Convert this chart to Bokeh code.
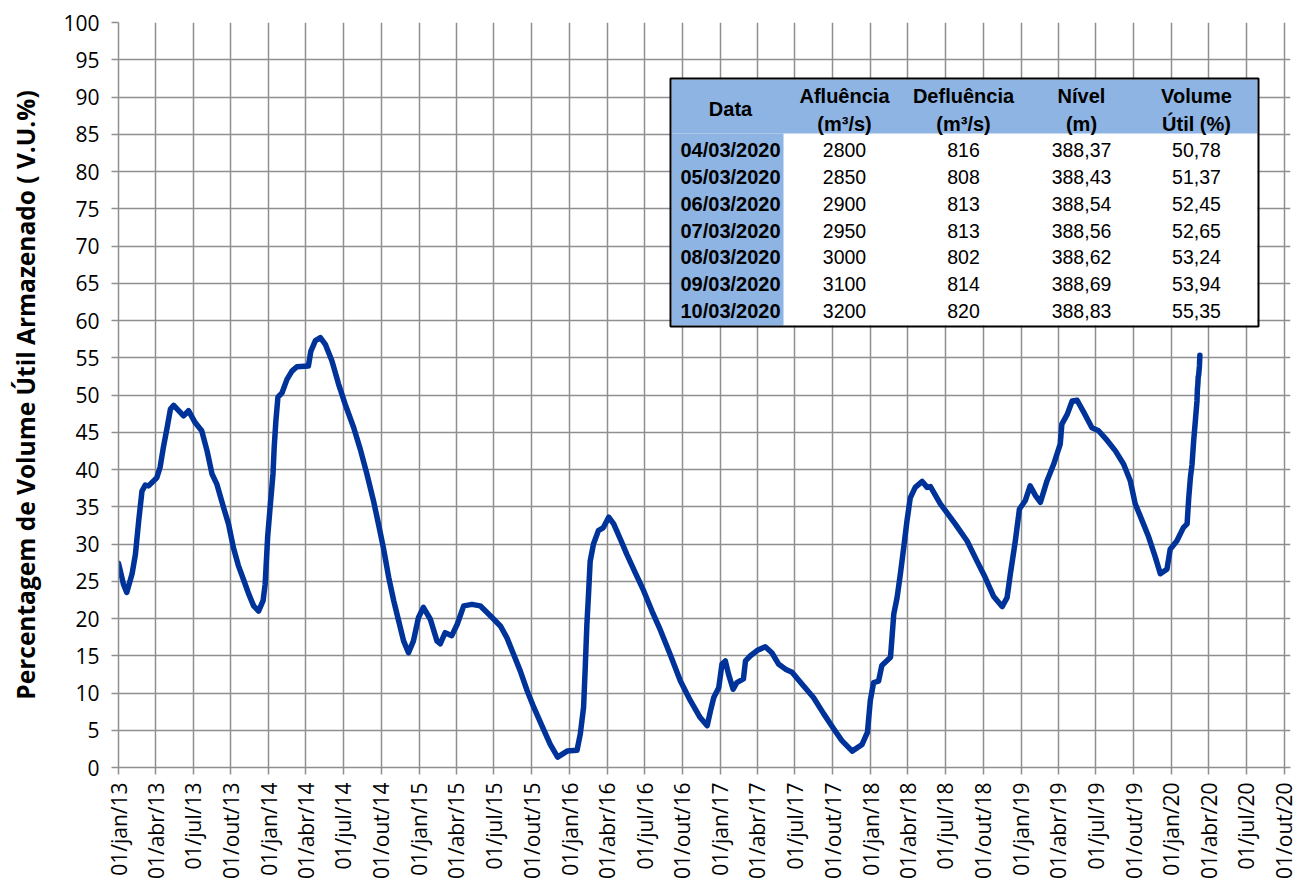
import pandas as pd
from math import pi
from bokeh.plotting import figure
from bokeh.models import ColumnDataSource, Range1d, FixedTicker
from bokeh.core.properties import value
from bokeh.embed import file_html
from bokeh.resources import INLINE

# ---------------- data ----------------
series_dates = [
    "2013-01-01", "2013-01-05", "2013-01-13", "2013-01-21", "2013-02-03", "2013-02-11", "2013-02-19",
    "2013-02-27", "2013-03-07", "2013-03-15", "2013-04-04", "2013-04-12", "2013-04-20", "2013-04-29",
    "2013-05-07", "2013-05-15", "2013-06-08", "2013-06-20", "2013-07-06", "2013-07-22", "2013-08-04",
    "2013-08-16", "2013-08-28", "2013-09-13", "2013-09-25", "2013-10-07", "2013-10-19", "2013-10-31",
    "2013-11-13", "2013-11-25", "2013-12-07", "2013-12-18", "2013-12-23", "2013-12-29", "2014-01-04",
    "2014-01-11", "2014-01-14", "2014-01-18", "2014-01-23", "2014-02-02", "2014-02-14", "2014-02-26",
    "2014-03-10", "2014-04-07", "2014-04-13", "2014-04-24", "2014-05-06", "2014-05-18", "2014-06-03",
    "2014-06-19", "2014-07-05", "2014-07-26", "2014-08-11", "2014-08-27", "2014-09-12", "2014-09-24",
    "2014-10-06", "2014-10-19", "2014-10-31", "2014-11-12", "2014-11-24", "2014-12-06", "2014-12-18",
    "2014-12-30", "2015-01-11", "2015-01-28", "2015-02-13", "2015-02-21", "2015-03-05", "2015-03-21",
    "2015-04-03", "2015-04-19", "2015-05-09", "2015-05-29", "2015-06-22", "2015-07-17", "2015-08-02",
    "2015-08-18", "2015-09-03", "2015-09-20", "2015-10-06", "2015-10-26", "2015-11-15", "2015-12-03",
    "2015-12-26", "2016-01-19", "2016-01-27", "2016-02-04", "2016-02-08", "2016-02-12", "2016-02-16",
    "2016-02-20", "2016-02-28", "2016-03-11", "2016-03-23", "2016-04-05", "2016-04-17", "2016-05-03",
    "2016-05-19", "2016-06-08", "2016-06-29", "2016-07-19", "2016-08-08", "2016-09-01", "2016-09-26",
    "2016-10-20", "2016-11-13", "2016-11-30", "2016-12-08", "2016-12-16", "2016-12-28", "2017-01-05",
    "2017-01-13", "2017-01-21", "2017-02-01", "2017-02-10", "2017-02-26", "2017-03-03", "2017-03-15",
    "2017-03-31", "2017-04-20", "2017-05-06", "2017-05-22", "2017-06-08", "2017-06-24", "2017-07-18",
    "2017-08-15", "2017-09-09", "2017-10-03", "2017-10-23", "2017-11-17", "2017-12-11", "2017-12-24",
    "2017-12-31", "2018-01-08", "2018-01-20", "2018-01-28", "2018-02-18", "2018-02-26", "2018-03-06",
    "2018-03-14", "2018-03-22", "2018-03-30", "2018-04-07", "2018-04-19", "2018-05-06", "2018-05-18",
    "2018-05-26", "2018-06-19", "2018-07-25", "2018-08-23", "2018-09-16", "2018-10-06", "2018-10-26",
    "2018-11-16", "2018-11-28", "2018-12-06", "2018-12-18", "2018-12-28", "2019-01-11", "2019-01-23",
    "2019-02-05", "2019-02-17", "2019-03-05", "2019-03-21", "2019-04-06", "2019-04-10", "2019-04-23",
    "2019-05-05", "2019-05-17", "2019-06-02", "2019-06-22", "2019-07-08", "2019-07-29", "2019-08-18",
    "2019-09-07", "2019-09-23", "2019-10-05", "2019-10-22", "2019-11-07", "2019-11-23", "2019-12-05",
    "2019-12-21", "2019-12-29", "2020-01-14", "2020-01-30", "2020-02-08", "2020-02-12", "2020-02-16",
    "2020-02-20", "2020-02-24", "2020-02-28", "2020-03-03",
]
series_volume = [
    27.4, 26.5, 24.6, 23.5, 26.0, 28.6, 33.1,
    37.1, 37.9, 37.8, 38.9, 40.3, 43.0, 45.6,
    48.1, 48.6, 47.2, 47.9, 46.3, 45.2, 42.5,
    39.4, 38.0, 34.9, 32.7, 29.5, 27.1, 25.3,
    23.3, 21.7, 21.0, 22.4, 24.6, 30.9, 34.9,
    39.4, 43.0, 46.5, 49.7, 50.3, 52.1, 53.2,
    53.8, 53.9, 55.9, 57.3, 57.7, 56.8, 54.6,
    51.5, 48.8, 45.6, 42.7, 39.4, 35.8, 32.7,
    29.5, 25.5, 22.4, 19.7, 17.0, 15.4, 17.0,
    20.1, 21.5, 19.9, 17.0, 16.6, 18.1, 17.7,
    19.2, 21.7, 21.9, 21.7, 20.4, 19.0, 17.4,
    15.2, 13.0, 10.3, 8.1, 5.6, 3.1, 1.4,
    2.2, 2.3, 4.5, 8.1, 13.4, 19.2, 23.3,
    27.7, 30.0, 31.8, 32.2, 33.6, 32.7, 30.7,
    28.6, 26.2, 23.7, 21.0, 18.5, 15.2, 11.6,
    9.0, 6.7, 5.6, 7.6, 9.4, 10.7, 13.9,
    14.3, 12.5, 10.5, 11.4, 11.9, 14.3, 15.0,
    15.7, 16.2, 15.4, 13.9, 13.2, 12.8, 11.2,
    9.4, 7.2, 5.2, 3.6, 2.2, 3.1, 4.7,
    9.0, 11.4, 11.6, 13.7, 14.8, 20.6, 22.8,
    26.0, 29.5, 33.1, 36.2, 37.6, 38.4, 37.6,
    37.7, 35.4, 32.7, 30.4, 27.7, 25.5, 23.0,
    21.6, 22.8, 26.0, 30.4, 34.7, 35.8, 37.8,
    36.5, 35.6, 38.5, 40.7, 43.4, 46.1, 47.4,
    49.2, 49.3, 47.7, 45.6, 45.2, 43.9, 42.5,
    40.7, 38.5, 35.4, 33.1, 30.9, 28.2, 26.0,
    26.6, 29.3, 30.4, 32.2, 32.7, 36.2, 38.9,
    40.7, 43.9, 46.5, 49.2,
]

table_dates = ["04/03/2020", "05/03/2020", "06/03/2020", "07/03/2020",
               "08/03/2020", "09/03/2020", "10/03/2020"]
table_afluencia = [2800, 2850, 2900, 2950, 3000, 3100, 3200]
table_defluencia = [816, 808, 813, 813, 802, 814, 820]
table_nivel = [388.37, 388.43, 388.54, 388.56, 388.62, 388.69, 388.83]
table_volume = [50.78, 51.37, 52.45, 52.65, 53.24, 53.94, 55.35]

table_headers = [["Data"], ["Afluência", "(m³/s)"], ["Defluência", "(m³/s)"],
                 ["Nível", "(m)"], ["Volume", "Útil (%)"]]

tick_labels = [
    "01/jan/13", "01/abr/13", "01/jul/13", "01/out/13",
    "01/jan/14", "01/abr/14", "01/jul/14", "01/out/14",
    "01/jan/15", "01/abr/15", "01/jul/15", "01/out/15",
    "01/jan/16", "01/abr/16", "01/jul/16", "01/out/16",
    "01/jan/17", "01/abr/17", "01/jul/17", "01/out/17",
    "01/jan/18", "01/abr/18", "01/jul/18", "01/out/18",
    "01/jan/19", "01/abr/19", "01/jul/19", "01/out/19",
    "01/jan/20", "01/abr/20", "01/jul/20", "01/out/20",
]
y_ticks = list(range(0, 101, 5))
y_label = "Percentagem de Volume Útil Armazenado ( V.U.%)"

# ---------------- helpers ----------------
def ms(ts):
    return pd.Timestamp(ts).value / 1e6

month_map = {"jan": 1, "abr": 4, "jul": 7, "out": 10}
def parse_tick(lbl):
    d, m, y = lbl.split("/")
    return ms(pd.Timestamp(year=2000 + int(y), month=month_map[m], day=int(d)))

tick_ms = [parse_tick(t) for t in tick_labels]

all_dates = [ms(d) for d in series_dates] + [ms(pd.to_datetime(d, format="%d/%m/%Y")) for d in table_dates]
all_vol = series_volume + table_volume

X_START = ms("2013-01-01")
X_END = ms("2020-10-16")

# page-pixel geometry of the frame (used only to place the inset table)
FL, FR, FT, FB = 118.0, 1290.0, 22.0, 767.0
def px_x(px):
    return X_START + (px - FL) / (FR - FL) * (X_END - X_START)
def px_y(py):
    return (FB - py) / (FB - FT) * 100.0

# ---------------- figure ----------------
p = figure(width=1302, height=883, x_axis_type="datetime",
           x_range=Range1d(X_START, X_END), y_range=Range1d(0, 100),
           output_backend="svg", toolbar_location=None,
           min_border_left=118, min_border_right=12, min_border_top=22, min_border_bottom=116)
p.outline_line_color = None
p.background_fill_color = "white"
p.border_fill_color = "white"

grid_col = "#8f8f8f"
p.xaxis.ticker = FixedTicker(ticks=tick_ms)
p.xaxis.major_label_overrides = {t: lbl for t, lbl in zip(tick_ms, tick_labels)}
p.xaxis.major_label_orientation = pi / 2
p.yaxis.ticker = FixedTicker(ticks=y_ticks)
for ax in (p.xaxis, p.yaxis):
    ax.axis_line_color = grid_col
    ax.axis_line_width = 1.5
    ax.major_tick_line_color = grid_col
    ax.major_tick_line_width = 1.5
    ax.major_tick_out = 7
    ax.major_tick_in = 0
    ax.minor_tick_line_color = None
    ax.major_label_text_font = "Open Sans"
    ax.major_label_text_font_size = "21px"
    ax.major_label_text_color = "black"
p.xaxis.major_label_standoff = 8
p.yaxis.major_label_standoff = 12
p.xgrid.grid_line_color = grid_col
p.xgrid.grid_line_width = 1.5
p.ygrid.grid_line_color = grid_col
p.ygrid.grid_line_width = 1.5

p.yaxis.axis_label = y_label
p.yaxis.axis_label_text_font = "Open Sans"
p.yaxis.axis_label_text_font_style = "bold"
p.yaxis.axis_label_text_font_size = "24.5px"
p.yaxis.axis_label_text_color = "black"
p.yaxis.axis_label_standoff = 18

# main series
src = ColumnDataSource(dict(date=all_dates, vol=all_vol))
p.line(x="date", y="vol", source=src, line_color="#003399", line_width=5.5,
       line_join="round", line_cap="round")

# ---------------- inset table ----------------
T_L, T_R, T_T, T_B = 671.0, 1257.0, 79.0, 325.0
H_B = 133.0
C_B = 783.0
blue = "#8DB4E2"
p.quad(left=[px_x(T_L)], right=[px_x(T_R)], top=[px_y(T_T)], bottom=[px_y(T_B)],
       fill_color="white", line_color=None)
p.quad(left=[px_x(T_L), px_x(T_L)], right=[px_x(T_R), px_x(C_B)],
       top=[px_y(T_T), px_y(H_B)], bottom=[px_y(H_B), px_y(T_B)],
       fill_color=blue, line_color=None)
p.quad(left=[px_x(T_L - 1)], right=[px_x(T_R + 1)], top=[px_y(T_T - 1)], bottom=[px_y(T_B + 1)],
       fill_color=None, line_color="black", line_width=2)

col_x = [730, 844, 963, 1081, 1196]
hx, hy, ht = [], [], []
for cx, hdr in zip(col_x, table_headers):
    if len(hdr) == 1:
        hx.append(px_x(cx)); hy.append(px_y(108)); ht.append(hdr[0])
    else:
        hx += [px_x(cx), px_x(cx)]; hy += [px_y(95), px_y(123.5)]; ht += hdr
p.text(x=hx, y=hy, text=ht, text_font=value("Liberation Sans"), text_font_style="bold",
       text_font_size=value("20px"), text_align="center", text_baseline="middle", text_color="black")

row_y = [149.3 + i * 26.9 for i in range(len(table_dates))]
p.text(x=[px_x(col_x[0])] * len(table_dates), y=[px_y(r) for r in row_y], text=table_dates,
       text_font=value("Liberation Sans"), text_font_style="bold", text_font_size=value("20px"),
       text_align="center", text_baseline="middle", text_color="black")

def fmt(v):
    return f"{v:.2f}".replace(".", ",")

cols = [[str(v) for v in table_afluencia], [str(v) for v in table_defluencia],
        [fmt(v) for v in table_nivel], [fmt(v) for v in table_volume]]
for cx, vals in zip(col_x[1:], cols):
    p.text(x=[px_x(cx)] * len(vals), y=[px_y(r) for r in row_y], text=vals,
           text_font=value("Liberation Sans"), text_font_size=value("19.5px"),
           text_align="center", text_baseline="middle", text_color="black")

open("out.html", "w").write(file_html(p, INLINE))
